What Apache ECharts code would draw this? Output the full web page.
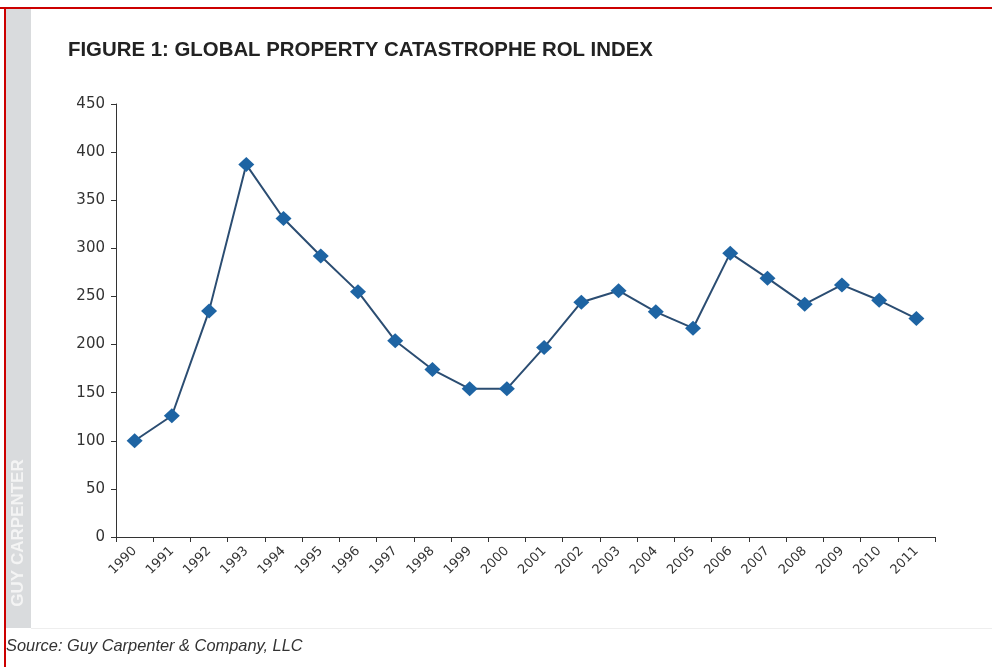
<!DOCTYPE html>
<html>
<head>
<meta charset="utf-8">
<title>Global Property Catastrophe ROL Index</title>
<script src="https://cdn.jsdelivr.net/npm/echarts@6/dist/echarts.min.js"></script>
<style>
  html, body { margin: 0; padding: 0; background: #ffffff; }
  #chart { width: 992px; height: 667px; }
</style>
</head>
<body>
<div id="chart"></div>
<script>
// Rate-on-line index, 1990 = 100
const years = ['1990','1991','1992','1993','1994','1995','1996','1997','1998','1999','2000',
               '2001','2002','2003','2004','2005','2006','2007','2008','2009','2010','2011'];
const rolIndex = [100, 126, 235, 387, 331, 292, 255, 204, 174, 154, 154,
                  197, 244, 256, 234, 217, 295, 269, 242, 262, 246, 227];
const yTicks = { min: 0, max: 450, step: 50 };

const titleText = 'FIGURE 1: GLOBAL PROPERTY CATASTROPHE ROL INDEX';
const sourceText = 'Source: Guy Carpenter & Company, LLC';
const brandText = 'GUY CARPENTER';

const chart = echarts.init(document.getElementById('chart'), null, { renderer: 'canvas' });

const axisFont = 'DejaVu Sans, Verdana, sans-serif';
const textFont = 'Liberation Sans, Arial, sans-serif';

chart.setOption({
  backgroundColor: '#ffffff',
  animation: false,
  grid: { left: 116, right: 57, top: 104, bottom: 130, containLabel: false },
  xAxis: {
    type: 'category',
    data: years,
    boundaryGap: true,
    axisLine: { show: true, lineStyle: { color: '#333333', width: 1 } },
    axisTick: { show: true, alignWithLabel: false, length: 5, lineStyle: { color: '#333333' } },
    axisLabel: {
      rotate: 45, interval: 0, margin: 12,
      color: '#333333', fontFamily: axisFont, fontSize: 13
    },
    splitLine: { show: false }
  },
  yAxis: {
    type: 'value',
    min: yTicks.min, max: yTicks.max, interval: yTicks.step,
    axisLine: { show: true, lineStyle: { color: '#333333', width: 1 } },
    axisTick: { show: true, length: 5, lineStyle: { color: '#333333' } },
    axisLabel: { color: '#333333', fontFamily: axisFont, fontSize: 15, margin: 11 },
    splitLine: { show: false }
  },
  series: [{
    type: 'line',
    data: rolIndex,
    symbol: 'diamond',
    symbolSize: [16, 15],
    lineStyle: { color: '#2b4d72', width: 2 },
    itemStyle: { color: '#1e64a3' },
    z: 3
  }],
  graphic: [
    // red frame (top and left edges)
    { type: 'rect', left: 0, top: 7, shape: { width: 992, height: 2 }, style: { fill: '#cc0000' }, z: 10 },
    { type: 'rect', left: 4, top: 7, shape: { width: 2, height: 660 }, style: { fill: '#cc0000' }, z: 10 },
    // grey side band with brand name
    { type: 'rect', left: 6, top: 9, shape: { width: 25, height: 619 }, style: { fill: '#d9dbdd' }, z: 1 },
    {
      type: 'text', x: 18, y: 533, rotation: Math.PI / 2, z: 2,
      style: {
        text: brandText, fill: '#f4f4f4', fontFamily: textFont,
        fontSize: 17, fontWeight: 'bold', align: 'center', verticalAlign: 'middle'
      }
    },
    // faint separator above the source line
    { type: 'rect', left: 31, top: 628, shape: { width: 961, height: 1 }, style: { fill: '#eeeeee' }, z: 1 },
    {
      type: 'text', left: 68, top: 40, z: 2,
      style: {
        text: titleText, fill: '#222222', fontFamily: textFont,
        fontSize: 20.4, fontWeight: 'bold'
      }
    },
    {
      type: 'text', left: 6, top: 638, z: 2,
      style: {
        text: sourceText, fill: '#333333', fontFamily: textFont,
        fontSize: 16.4, fontStyle: 'italic'
      }
    }
  ]
});
</script>
</body>
</html>
